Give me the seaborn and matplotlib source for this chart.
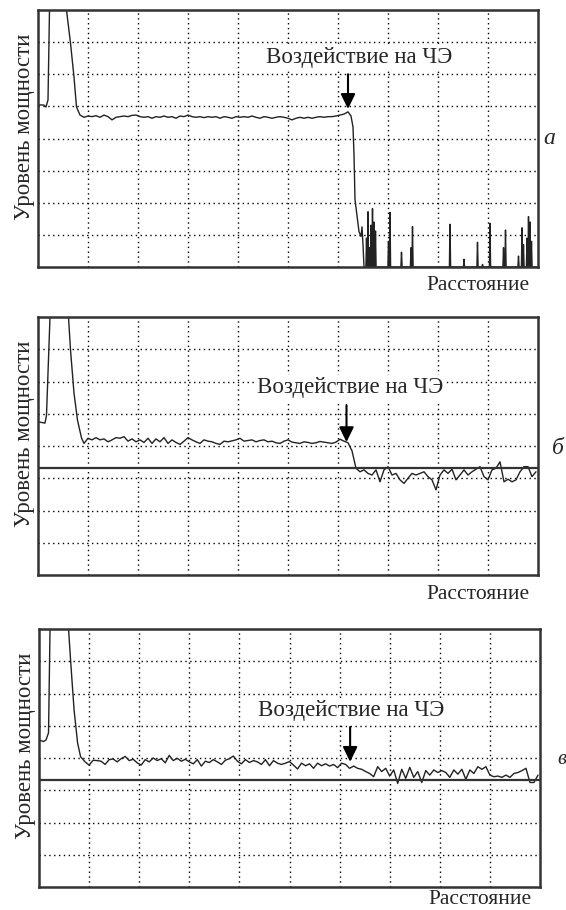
import numpy as np
import pandas as pd
import matplotlib
matplotlib.use("Agg")
import matplotlib.pyplot as plt
import seaborn as sns

sns.set_style("white")
plt.rcParams["font.family"] = ["Liberation Serif", "DejaVu Serif"]

# sampling of the noisy part of the reflectograms (distance, grid units)
step_x = np.round(np.arange(1.0, 9.97, 0.08), 2)   # 1.00 ... 9.96

# --- panel a: fiber break ---
a_head_x = [0.0, 0.12, 0.16, 0.20, 0.23, 0.57, 0.65, 0.72, 0.77, 0.84, 0.92]
a_head_y = [5.05, 5.04, 4.98, 5.20, 8.0, 8.0, 6.97, 5.91, 4.98, 4.73, 4.66]
a_plateau_y = [4.70, 4.68, 4.71, 4.66, 4.73, 4.68, 4.58, 4.66, 4.68, 4.70,
               4.68, 4.72, 4.73, 4.68, 4.66, 4.68, 4.63, 4.68, 4.66, 4.70,
               4.66, 4.68, 4.63, 4.70, 4.68, 4.73, 4.68, 4.66, 4.68, 4.65,
               4.68, 4.66, 4.68, 4.63, 4.68, 4.66, 4.63, 4.68, 4.66, 4.68,
               4.66, 4.70, 4.66, 4.63, 4.68, 4.66, 4.63, 4.66, 4.68, 4.66,
               4.63, 4.58, 4.63, 4.66, 4.63, 4.66, 4.63, 4.66, 4.68, 4.66,
               4.68, 4.68, 4.70, 4.73, 4.76, 4.83]
a_drop_x = [6.26, 6.30, 6.32, 6.34, 6.38, 6.42, 6.46, 6.48, 6.50, 6.52]
a_drop_y = [4.70, 4.36, 3.50, 2.10, 1.60, 1.10, 0.95, 1.25, 0.70, 0.0]
spike_x = [6.57, 6.60, 6.63, 6.66, 6.69, 6.72, 6.75, 7.01, 7.04, 7.27, 7.46, 7.49, 8.24,
           8.52, 8.79, 8.89, 9.04, 9.31, 9.35, 9.61, 9.68, 9.71, 9.78, 9.81, 9.84, 9.87]
spike_h = [0.9, 1.72, 0.6, 1.3, 1.82, 1.4, 1.12, 0.8, 1.7, 0.46, 0.6, 1.26, 1.33,
           0.24, 0.77, 0.08, 1.36, 0.6, 1.15, 0.34, 1.22, 0.7, 0.9, 1.57, 1.4, 0.8]

# --- panel б ---
b_head_x = [0.0, 0.14, 0.17, 0.24, 0.61, 0.65, 0.72, 0.79, 0.87, 0.92]
b_head_y = [4.75, 4.71, 4.96, 8.0, 8.0, 6.98, 5.64, 4.80, 4.25, 4.08]
b_body_y = [4.24, 4.19, 4.26, 4.19, 4.22, 4.13, 4.19, 4.26, 4.24, 4.29,
            4.15, 4.22, 4.13, 4.19, 4.11, 4.24, 4.08, 4.22, 4.13, 4.26,
            4.08, 4.19, 4.11, 4.05, 4.15, 4.26, 4.19, 4.13, 4.08, 4.19,
            4.15, 4.13, 4.08, 4.05, 4.15, 4.13, 4.16, 4.19, 4.24, 4.15,
            4.17, 4.19, 4.13, 4.17, 4.19, 4.13, 4.15, 4.10, 4.08, 4.15,
            4.19, 4.12, 4.10, 4.08, 4.13, 4.11, 4.08, 4.10, 4.14, 4.12,
            4.10, 4.08, 4.12, 4.21, 4.15, 4.10,
            3.85, 3.31, 3.20, 3.26, 3.15, 3.10, 3.26, 2.89, 3.26, 3.36,
            3.10, 3.15, 2.95, 2.84, 3.00, 3.15, 3.10, 3.15, 3.20, 3.05,
            2.95, 2.64, 3.10, 3.26, 3.15, 3.28, 2.95, 3.10, 3.26, 3.10,
            3.20, 3.28, 3.36, 3.05, 2.95, 3.26, 3.31, 3.51, 2.89, 2.97,
            2.89, 2.95, 3.20, 3.36, 3.36, 3.05, 3.20]

# --- panel в ---
c_head_x = [0.0, 0.09, 0.14, 0.19, 0.22, 0.59, 0.63, 0.70, 0.77, 0.83, 0.92]
c_head_y = [4.56, 4.51, 4.56, 4.78, 8.0, 8.0, 7.04, 5.49, 4.47, 4.04, 3.88]
c_body_y = [3.78, 3.93, 3.92, 3.90, 3.80, 3.95, 3.97, 3.88, 3.98, 4.05,
            3.92, 3.96, 3.85, 3.78, 3.95, 3.88, 4.00, 3.92, 3.98, 3.85,
            4.08, 3.92, 3.99, 3.90, 3.96, 3.88, 3.82, 3.95, 3.75, 3.90,
            3.86, 3.95, 3.88, 3.80, 3.93, 3.98, 4.06, 3.90, 3.82, 3.95,
            3.86, 3.92, 3.88, 3.80, 3.95, 3.76, 3.92, 3.84, 3.80, 3.84,
            3.89, 3.78, 3.66, 3.84, 3.76, 3.82, 3.68, 3.84, 3.76, 3.82,
            3.75, 3.80, 3.70, 3.84, 3.80, 3.68,
            3.75, 3.68, 3.65, 3.58, 3.52, 3.42, 3.73, 3.58, 3.68, 3.44,
            3.63, 3.21, 3.65, 3.37, 3.71, 3.40, 3.58, 3.24, 3.61, 3.47,
            3.63, 3.55, 3.61, 3.55, 3.40, 3.63, 3.50, 3.65, 3.34, 3.63,
            3.52, 3.73, 3.65, 3.73, 3.47, 3.42, 3.44, 3.40, 3.47, 3.40,
            3.52, 3.55, 3.61, 3.68, 3.24, 3.24, 3.47]

threshold = 3.32
label_text = "Воздействие на ЧЭ"

# build trace of panel a (plateau + break + spiky noise floor)
tail_x, tail_y = [], []
for sx, sh in zip(spike_x, spike_h):
    tail_x += [sx - 0.012, sx, sx + 0.012]
    tail_y += [0.0, sh, 0.0]
a_x = a_head_x + list(step_x[:66]) + a_drop_x + tail_x + [10.0]
a_y = a_head_y + a_plateau_y + a_drop_y + tail_y + [0.0]
b_x = b_head_x + list(step_x)
b_y = b_head_y + b_body_y
c_x = c_head_x + list(step_x)
c_y = c_head_y + c_body_y

fig = plt.figure(figsize=(5.66, 9.10), dpi=100)
W, H = 566, 910

panels = [
    # x, y, axes box (px), arrow x, arrow top, arrow tip, text pos, tag, tag pos, tag size,
    # threshold, offset of the "distance" caption
    (a_x, a_y, (38, 10, 500, 257), 6.20, 6.00, 4.92, (6.42, 6.51), "а", (549, 138), 17, None, -0.088),
    (b_x, b_y, (38, 317, 500, 258), 6.17, 5.27, 4.12, (6.24, 5.80), "б", (558, 448), 17, threshold, -0.092),
    (c_x, c_y, (39, 629, 501, 258), 6.21, 4.96, 3.88, (6.24, 5.46), "в", (562, 760), 15, threshold, -0.064),
]

for x, y, box, ax_x, ax_top, ax_tip, txt_pos, tag, tag_pos, tag_size, thr, cap_y in panels:
    l, t, w, h = box
    ax = fig.add_axes([l / W, 1 - (t + h) / H, w / W, h / H])
    df = pd.DataFrame({"dist": x, "level": y})
    sns.lineplot(data=df, x="dist", y="level", ax=ax, color="#222222", lw=1.0,
                 estimator=None, sort=False)
    if thr is not None:
        ax.axhline(thr, color="#333333", lw=1.6)
    ax.set_xlim(0, 10)
    ax.set_ylim(0, 8)
    ax.set_xticks(range(1, 10))
    ax.set_yticks(range(1, 8))
    ax.tick_params(length=0, labelbottom=False, labelleft=False)
    ax.grid(True, color="black", linestyle=(0, (1, 2.5)), lw=1.0)
    for s in ax.spines.values():
        s.set_color("#333333")
        s.set_linewidth(1.8)
    ax.set_xlabel("")
    ax.set_ylabel("Уровень мощности", fontsize=16.5)
    ax.yaxis.set_label_coords(-0.006, 0.547)
    ax.text(0.984, cap_y, "Расстояние", transform=ax.transAxes, ha="right",
            va="baseline", fontsize=15.5)
    ax.annotate("", xy=(ax_x, ax_tip), xytext=(ax_x, ax_top),
                arrowprops=dict(arrowstyle="-|>,head_length=0.45,head_width=0.22",
                                mutation_scale=20, lw=1.5, color="black",
                                shrinkA=0, shrinkB=0))
    ax.text(txt_pos[0], txt_pos[1], label_text, ha="center", va="center", fontsize=16.5,
            bbox=dict(facecolor="white", edgecolor="none", pad=1.5))
    fig.text(tag_pos[0] / W, 1 - tag_pos[1] / H, tag, ha="center", va="center",
             fontsize=tag_size, style="italic")

fig.savefig("out.png", dpi=100)
